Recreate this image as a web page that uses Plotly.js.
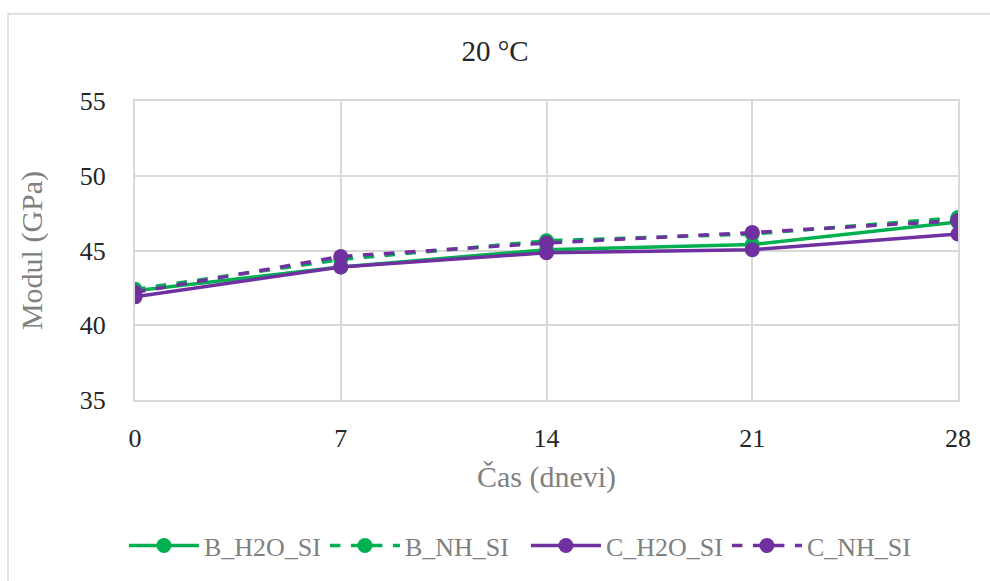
<!DOCTYPE html>
<html>
<head>
<meta charset="utf-8">
<script src="https://cdn.plot.ly/plotly-3.0.1.min.js"></script>
<style>html,body{margin:0;padding:0;background:#fff;}#chart{width:990px;height:581px;}</style>
</head>
<body>
<div id="chart"></div>
<script>
var days = [0, 7, 14, 21, 28];
var B_H2O_SI = [42.3, 43.9, 45.05, 45.4, 46.9];
var B_NH_SI  = [42.4, 44.4, 45.65, 46.1, 47.2];
var C_H2O_SI = [41.9, 43.9, 44.85, 45.05, 46.1];
var C_NH_SI  = [42.2, 44.6, 45.5, 46.2, 47.0];
var seriesNames = ['B_H2O_SI', 'B_NH_SI', 'C_H2O_SI', 'C_NH_SI'];
var green = '#00B050', purple = '#7030A0';

function tr(name, y, color, dash) {
  return {x: days, y: y, name: name, type: 'scatter', mode: 'lines+markers',
    line: {color: color, width: 3.5, dash: dash},
    marker: {color: color, size: 15, symbol: 'circle'}};
}
var data = [
  tr(seriesNames[0], B_H2O_SI, green, 'solid'),
  tr(seriesNames[1], B_NH_SI, green, 'dash'),
  tr(seriesNames[2], C_H2O_SI, purple, 'solid'),
  tr(seriesNames[3], C_NH_SI, purple, 'dash')
];
var font = 'Liberation Serif, Times New Roman, serif';
var grid = '#D9D9D9';
var layout = {
  width: 990, height: 581,
  margin: {l: 135, r: 32, t: 101, b: 178},
  paper_bgcolor: '#fff', plot_bgcolor: '#fff',
  font: {family: font, size: 26, color: '#262626'},
  title: {text: '20 °C', x: 0.5, xanchor: 'center', y: 0.912, yanchor: 'middle', font: {family: font, size: 29, color: '#262626'}},
  xaxis: {range: [0, 28], tickvals: days, ticktext: days.map(String), showgrid: true, gridcolor: grid, gridwidth: 2,
    zeroline: false, showline: true, mirror: true, linecolor: grid, linewidth: 2, ticks: '', ticklabelstandoff: 14,
    tickfont: {family: font, size: 26, color: '#262626'},
    title: {text: 'Čas (dnevi)', font: {family: font, size: 30, color: '#808080'}, standoff: 14}, automargin: false},
  yaxis: {range: [35, 55], dtick: 5, tick0: 35, showgrid: true, gridcolor: grid, gridwidth: 2,
    zeroline: false, showline: true, mirror: true, linecolor: grid, linewidth: 2, ticks: '', ticklabelstandoff: 22,
    tickfont: {family: font, size: 26, color: '#262626'},
    title: {text: 'Modul (GPa)', font: {family: font, size: 30, color: '#808080'}, standoff: 28}, automargin: false},
  showlegend: true,
  legend: {orientation: 'h', x: 0.475, xanchor: 'center', y: -0.487, yanchor: 'middle',
    font: {family: font, size: 26, color: '#808080'}, itemwidth: 70, entrywidth: 116, entrywidthmode: 'pixels', traceorder: 'normal'},
  shapes: [{type: 'rect', xref: 'paper', yref: 'paper', x0: -0.1543, x1: 1.06, y0: -0.65, y1: 1.2914,
    line: {color: grid, width: 1.5}, fillcolor: 'rgba(0,0,0,0)', layer: 'below'}]
};
Plotly.newPlot('chart', data, layout, {displayModeBar: false, staticPlot: true});
</script>
</body>
</html>
